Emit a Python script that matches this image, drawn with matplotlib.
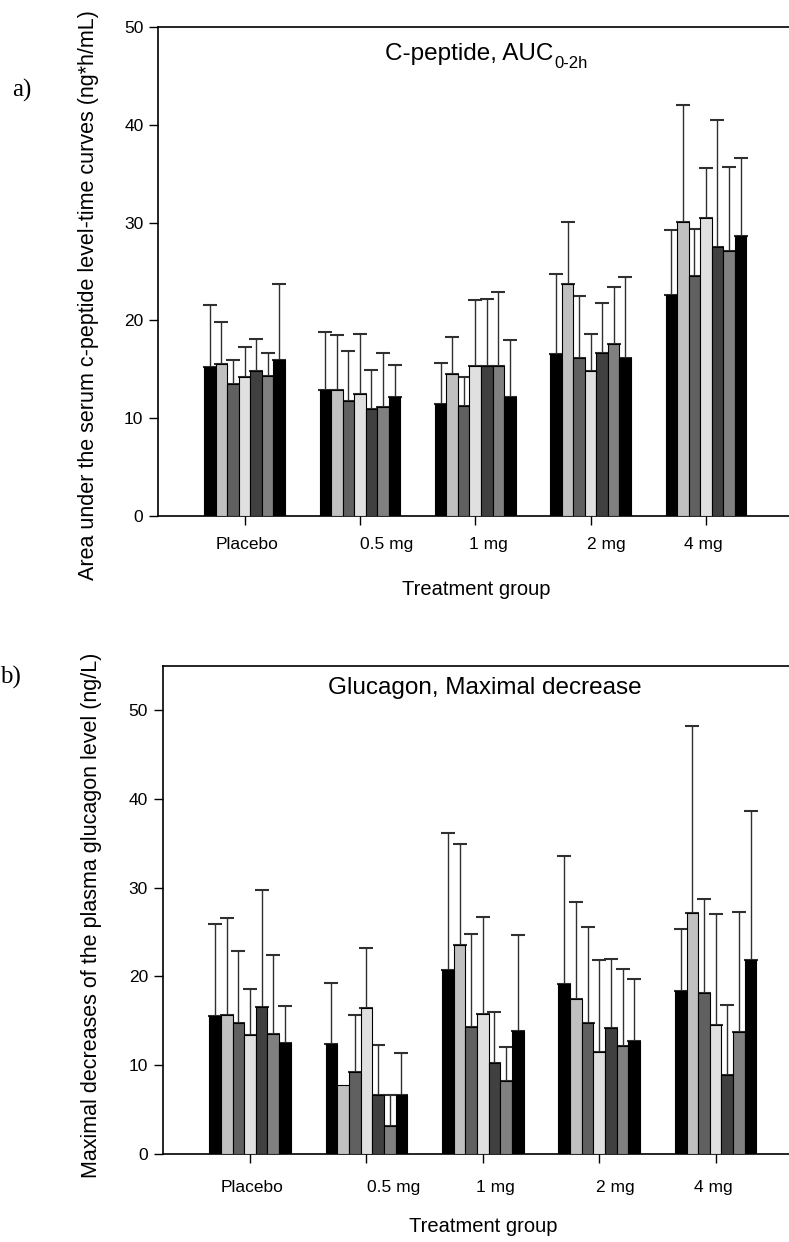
#!/usr/bin/env python3

import numpy as np
from matplotlib import pyplot as plt

plt.rcParams['font.family'] = ['Liberation Sans', 'DejaVu Sans']

groups = ['Placebo', '0.5 mg', '1 mg', '2 mg', '4 mg']
label_pos = [1.02, 2.23, 3.11, 4.14, 4.98]

# one shade per bar inside a group
shades = ['#000000', '#c0c0c0', '#606060', '#e0e0e0', '#404040', '#808080', '#000000']

# C-peptide AUC 0-2h, mean and mean+SD per group (7 bars each)
cpep_mean = [
    [15.2, 15.5, 13.5, 14.2, 14.8, 14.3, 16.0],
    [12.9, 12.9, 11.8, 12.5, 10.9, 11.2, 12.2],
    [11.5, 14.5, 11.3, 15.3, 15.3, 15.3, 12.2],
    [16.6, 23.7, 16.2, 14.8, 16.7, 17.6, 16.2],
    [22.6, 30.1, 24.5, 30.5, 27.5, 27.1, 28.6],
]
cpep_top = [
    [21.6, 19.8, 16.0, 17.3, 18.1, 16.7, 23.7],
    [18.8, 18.5, 16.9, 18.6, 14.9, 16.7, 15.4],
    [15.7, 18.3, 14.2, 22.1, 22.2, 22.9, 18.0],
    [24.8, 30.1, 22.5, 18.6, 21.8, 23.4, 24.4],
    [29.3, 42.0, 29.4, 35.6, 40.5, 35.7, 36.6],
]

# glucagon maximal decrease, mean and mean+SD
gluc_mean = [
    [15.5, 15.7, 14.7, 13.4, 16.6, 13.5, 12.5],
    [12.4, 7.8, 9.2, 16.4, 6.6, 3.2, 6.6],
    [20.7, 23.5, 14.3, 15.8, 10.3, 8.2, 13.9],
    [19.1, 17.4, 14.7, 11.5, 14.2, 12.2, 12.7],
    [18.4, 27.1, 18.1, 14.5, 8.9, 13.7, 21.9],
]
gluc_top = [
    [25.9, 26.6, 22.9, 18.6, 29.7, 22.4, 16.7],
    [19.3, np.nan, 15.6, 23.2, 12.3, 6.6, 11.4],
    [36.1, 34.9, 24.8, 26.7, 16.0, 12.1, 24.7],
    [33.6, 28.4, 25.6, 21.8, 22.0, 20.8, 19.7],
    [25.3, 48.2, 28.7, 27.0, 16.8, 27.2, 38.6],
]


def draw_panel(ax, means, tops, ylabel, ylim, xlim, lab):
    means = np.array(means)
    tops = np.array(tops)
    n = means.shape[1]
    width = 0.1
    x = np.arange(1, len(groups) + 1)
    for i in range(n):
        xi = x + (i - (n - 1) / 2) * width
        ax.bar(xi, means[:, i], width, color=shades[i], edgecolor='black',
               linewidth=0.8, zorder=3)
        up = tops[:, i] - means[:, i]
        ok = ~np.isnan(up)
        ax.errorbar(xi[ok], means[ok, i], yerr=[np.zeros(ok.sum()), up[ok]],
                    fmt='none', ecolor='#303030', elinewidth=1.0,
                    capsize=4.7, capthick=1.5, zorder=2)

    ax.set_xlim(xlim)
    ax.set_ylim(ylim)
    ax.set_yticks(np.arange(0, 51, 10))
    ax.set_xticks(x)
    ax.set_xticklabels([])
    ax.tick_params(axis='both', direction='out', length=6.5, width=1,
                   labelsize=12.5, pad=4)
    ax.spines['right'].set_visible(False)
    for s in ['left', 'bottom', 'top']:
        ax.spines[s].set_linewidth(1.2)

    trans = ax.get_xaxis_transform()
    for pos, name in zip(label_pos, groups):
        ax.text(pos, lab['tick_y'], name, transform=trans, ha='center',
                va='center', fontsize=12.5)

    ax.set_xlabel('Treatment group', fontsize=14.5)
    ax.xaxis.set_label_coords(lab['xlab'], lab['xlab_y'])
    ax.set_ylabel(ylabel, fontsize=15.5)
    ax.yaxis.set_label_coords(lab['ylab_x'], lab['ylab_y'])
    return ax


def main():
    fig = plt.figure(figsize=(7.89, 12.42), dpi=100)

    ax1 = fig.add_axes([0.2003, 0.5845, 0.7997, 0.3937])
    draw_panel(ax1, cpep_mean, cpep_top,
               'Area under the serum c-peptide level-time curves (ng*h/mL)',
               (0, 50), (0.25, 5.72),
               dict(tick_y=-0.059, xlab=0.504, xlab_y=-0.131,
                    ylab_x=-0.093, ylab_y=0.452))
    t = ax1.text(0.493, 0.945, 'C-peptide, AUC', transform=ax1.transAxes,
                 ha='center', va='center', fontsize=17.5)
    ax1.annotate('0-2h', xy=(1, 0.05), xycoords=t, xytext=(0.5, 0),
                 textcoords='offset points', ha='left', va='center',
                 fontsize=12)

    ax2 = fig.add_axes([0.2062, 0.0709, 0.7938, 0.3931])
    draw_panel(ax2, gluc_mean, gluc_top,
               'Maximal decreases of the plasma glucagon level (ng/L)',
               (0, 55), (0.25, 5.63),
               dict(tick_y=-0.068, xlab=0.512, xlab_y=-0.129,
                    ylab_x=-0.097, ylab_y=0.488))
    ax2.text(0.515, 0.955, 'Glucagon, Maximal decrease', transform=ax2.transAxes,
             ha='center', va='center', fontsize=17.5)

    fig.text(12 / 789, 1 - 90 / 1242, 'a)', family='Liberation Serif',
             fontsize=18, ha='left', va='center')
    fig.text(0.5 / 789, 1 - 677 / 1242, 'b)', family='Liberation Serif',
             fontsize=18, ha='left', va='center')

    fig.savefig('out.png', dpi=100)


if __name__ == "__main__":
    main()
